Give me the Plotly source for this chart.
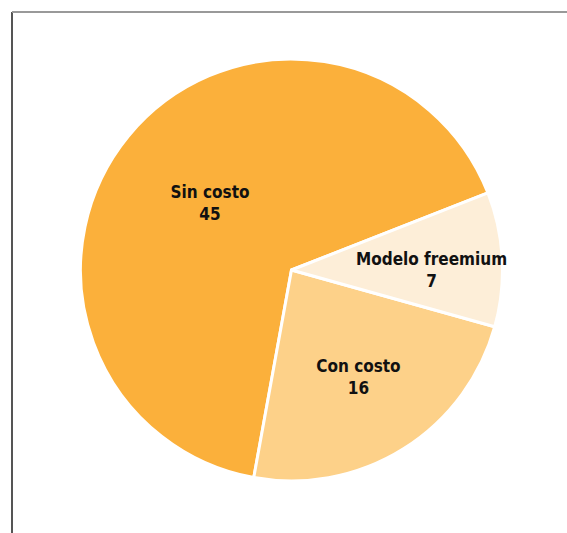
import plotly.graph_objects as go

labels = ["Sin costo", "Con costo", "Modelo freemium"]
values = [45, 16, 7]
colors = ["#FBB03B", "#FDD189", "#FDEED8"]

W, H = 567, 533
cx, cy, r = 291.5, 270, 211

fig = go.Figure(go.Pie(
    labels=labels,
    values=values,
    sort=False,
    direction="counterclockwise",
    rotation=190.3,
    marker=dict(colors=colors, line=dict(color="white", width=3)),
    texttemplate="<b>%{label}</b><br><b>%{value}</b>",
    textposition="inside",
    insidetextorientation="horizontal",
    textfont=dict(family="DejaVu Sans Condensed, Liberation Sans Narrow, Arial Narrow, sans-serif", size=17, color="#111111"),
    hoverinfo="label+value",
    showlegend=False,
    domain=dict(x=[(cx - r) / W, (cx + r) / W], y=[1 - (cy + r) / H, 1 - (cy - r) / H]),
))

fig.update_layout(
    width=W, height=H,
    margin=dict(l=0, r=0, t=0, b=0),
    paper_bgcolor="white",
    plot_bgcolor="white",
    uniformtext=dict(minsize=17, mode="show"),
    shapes=[
        dict(type="line", xref="paper", yref="paper", x0=12 / W, x1=12 / W, y0=0, y1=1 - 12 / H,
             line=dict(color="#555555", width=2)),
        dict(type="line", xref="paper", yref="paper", x0=12 / W, x1=1, y0=1 - 12 / H, y1=1 - 12 / H,
             line=dict(color="#999999", width=2)),
    ],
)

fig.write_html("out.html")
